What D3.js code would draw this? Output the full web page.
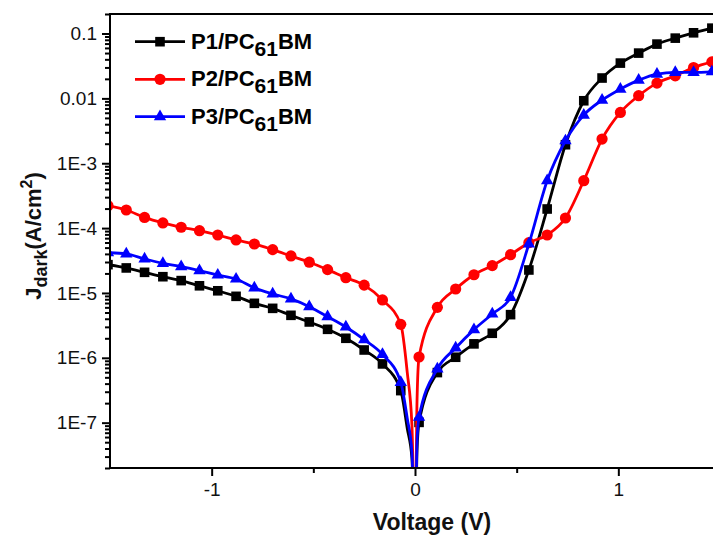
<!DOCTYPE html>
<html><head><meta charset="utf-8">
<script src="https://cdn.jsdelivr.net/npm/d3@7"></script>
<style>body{margin:0;background:#fff}svg{display:block}</style>
</head><body>
<svg id="c" width="713" height="537"></svg>
<script>
// Marker voltages (V)
const voltages = [-1.51,-1.42,-1.33,-1.24,-1.15,-1.06,-0.97,-0.88,-0.79,-0.70,-0.61,-0.52,-0.43,-0.34,-0.25,-0.16,-0.07,
  0.02,0.11,0.20,0.29,0.38,0.47,0.56,0.65,0.74,0.83,0.92,1.01,1.10,1.19,1.28,1.37,1.46];
// Dark current density (A/cm^2) at the marker voltages
const p1 = [2.73e-5,2.43e-5,2.08e-5,1.78e-5,1.55e-5,1.29e-5,1.08e-5,8.87e-6,6.92e-6,5.79e-6,4.52e-6,3.57e-6,2.75e-6,2.00e-6,1.32e-6,8.05e-7,3.12e-7,
  1.01e-7,5.92e-7,1.02e-6,1.64e-6,2.39e-6,4.63e-6,2.26e-5,1.97e-4,1.93e-3,9.19e-3,2.06e-2,3.50e-2,4.99e-2,6.87e-2,8.49e-2,0.1026,0.121];
const p2 = [2.21e-4,1.90e-4,1.46e-4,1.20e-4,1.03e-4,9.12e-5,7.83e-5,6.56e-5,5.69e-5,4.65e-5,3.72e-5,2.98e-5,2.29e-5,1.72e-5,1.32e-5,7.80e-6,3.28e-6,
  1.03e-6,6.00e-6,1.15e-5,1.91e-5,2.64e-5,3.89e-5,5.96e-5,7.83e-5,1.43e-4,5.38e-4,2.36e-3,6.07e-3,1.10e-2,1.72e-2,2.23e-2,2.99e-2,3.66e-2];
const p3 = [4.18e-5,3.99e-5,3.34e-5,2.86e-5,2.54e-5,2.21e-5,1.89e-5,1.64e-5,1.20e-5,9.66e-6,8.09e-6,6.15e-6,4.31e-6,2.99e-6,1.91e-6,1.13e-6,4.19e-7,
  1.21e-7,6.75e-7,1.42e-6,2.72e-6,4.74e-6,8.55e-6,5.69e-5,5.38e-4,2.22e-3,5.53e-3,9.42e-3,1.39e-2,1.91e-2,2.37e-2,2.51e-2,2.51e-2,2.57e-2];
// Extra line-only points around the zero-crossing dip
const dipV = [-0.038,-0.015,0,0.01];
const p1Dip = [8.1e-8,2.8e-8,1e-9,3.7e-8];
const p2Dip = [5.9e-7,9.0e-8,1e-9,2.19e-7];
const p3Dip = [1.16e-7,3.46e-8,1e-9,5.3e-8];

const seriesNames = ["P1/PC", "P2/PC", "P3/PC"];
const colors = ["#000000", "#ff0000", "#0000ff"];
const yTickValues = [1e-7,1e-6,1e-5,1e-4,1e-3,1e-2,1e-1];
const yTickLabels = ["1E-7","1E-6","1E-5","1E-4","1E-3","0.01","0.1"];
const xTickValues = [-1,0,1];
const xTickLabels = ["-1","0","1"];

const FONT = "'Liberation Sans', Arial, Helvetica, sans-serif";
const svg = d3.select("#c");
const L = 110, R = 720, T = 14, B = 468;
const x = d3.scaleLinear().domain([-1.5,1.5]).range([L,R]);
const y = d3.scaleLog().domain([2e-8,0.2]).range([B,T]);

svg.append("defs").append("clipPath").attr("id","clip")
  .append("rect").attr("x",L).attr("y",T).attr("width",R-L).attr("height",B-T);

const series = [p1,p2,p3].map((vals,i)=>{
  const dips = [p1Dip,p2Dip,p3Dip][i];
  const pts = voltages.map((v,j)=>({v, j:vals[j], m:true}))
    .concat(dipV.map((v,j)=>({v, j:dips[j], m:false})))
    .sort((a,b)=>a.v-b.v);
  return {name:seriesNames[i], color:colors[i], pts, i};
});

const line = d3.line().x(d=>x(d.v)).y(d=>y(d.j)).curve(d3.curveMonotoneX);
const plot = svg.append("g").attr("clip-path","url(#clip)");

function marker(g, i, cx, cy, color){
  if(i===0){
    g.append("rect").attr("x",cx-4.8).attr("y",cy-4.8).attr("width",9.6).attr("height",9.6).attr("fill",color);
  } else if(i===1){
    g.append("circle").attr("cx",cx).attr("cy",cy).attr("r",5.6).attr("fill",color);
  } else {
    g.append("path").attr("d",d3.symbol(d3.symbolTriangle,66)()).attr("transform",`translate(${cx},${cy})`).attr("fill",color);
  }
}

series.forEach(s=>{
  plot.append("path").datum(s.pts).attr("d",line).attr("fill","none")
    .attr("stroke",s.color).attr("stroke-width",2.8).attr("stroke-linejoin","round");
  const mg = plot.append("g");
  s.pts.filter(d=>d.m).forEach(d=>marker(mg,s.i,x(d.v),y(d.j),s.color));
});

// Axes
const axG = svg.append("g");
axG.append("line").attr("x1",L).attr("x2",R).attr("y1",T).attr("y2",T).attr("stroke","#000").attr("stroke-width",2);
axG.append("line").attr("x1",L).attr("x2",R).attr("y1",B).attr("y2",B).attr("stroke","#000").attr("stroke-width",2);
axG.append("line").attr("x1",L).attr("x2",L).attr("y1",T-1).attr("y2",B+1).attr("stroke","#000").attr("stroke-width",2);

svg.append("g").attr("transform",`translate(${L},0)`)
  .call(d3.axisLeft(y).tickValues(yTickValues).tickFormat((d,i)=>yTickLabels[i]).tickSize(8).tickPadding(5));
const yMinor = [];
for(let e=-8;e<=-1;e++){ for(let k=2;k<=9;k++){ const v=k*Math.pow(10,e); if(v>=2e-8*0.999 && v<=0.2*1.001) yMinor.push(v);} }
svg.append("g").attr("transform",`translate(${L},0)`)
  .call(d3.axisLeft(y).tickValues(yMinor).tickFormat("").tickSize(5));
svg.append("g").attr("transform",`translate(0,${B})`)
  .call(d3.axisBottom(x).tickValues(xTickValues).tickFormat((d,i)=>xTickLabels[i]).tickSize(8).tickPadding(7));
svg.append("g").attr("transform",`translate(0,${B})`)
  .call(d3.axisBottom(x).tickValues([-0.5,0.5]).tickFormat("").tickSize(5));

svg.selectAll(".domain").remove();
svg.selectAll(".tick line").attr("stroke","#000").attr("stroke-width",2);
svg.selectAll(".tick text").attr("font-family",FONT).attr("font-size",19).attr("fill","#111");

// Axis titles
svg.append("text").attr("x",432).attr("y",530).attr("text-anchor","middle")
  .attr("font-family",FONT).attr("font-weight","bold").attr("font-size",23).attr("fill","#111")
  .text("Voltage (V)");

const yl = svg.append("text").attr("transform","translate(41,236) rotate(-90)").attr("text-anchor","middle")
  .attr("font-family",FONT).attr("font-weight","bold").attr("font-size",22).attr("fill","#111");
yl.append("tspan").text("J");
yl.append("tspan").attr("dy",6).attr("font-size",18).text("dark");
yl.append("tspan").attr("dy",-6).text("(A/cm");
yl.append("tspan").attr("dy",-9).attr("font-size",16).text("2");
yl.append("tspan").attr("dy",9).text(")");

// Legend
const legY = [41.7, 79.3, 116.7];
series.forEach((s,i)=>{
  const g = svg.append("g");
  g.append("line").attr("x1",135).attr("x2",185).attr("y1",legY[i]).attr("y2",legY[i])
    .attr("stroke",s.color).attr("stroke-width",2.8);
  marker(g,i,160,legY[i],s.color);
  const t = g.append("text").attr("x",191).attr("y",legY[i]+7)
    .attr("font-family",FONT).attr("font-weight","bold").attr("font-size",22).attr("fill","#000");
  t.append("tspan").text(s.name);
  t.append("tspan").attr("dy",7).attr("font-size",21).text("61");
  t.append("tspan").attr("dy",-7).text("BM");
});
</script>
</body></html>
